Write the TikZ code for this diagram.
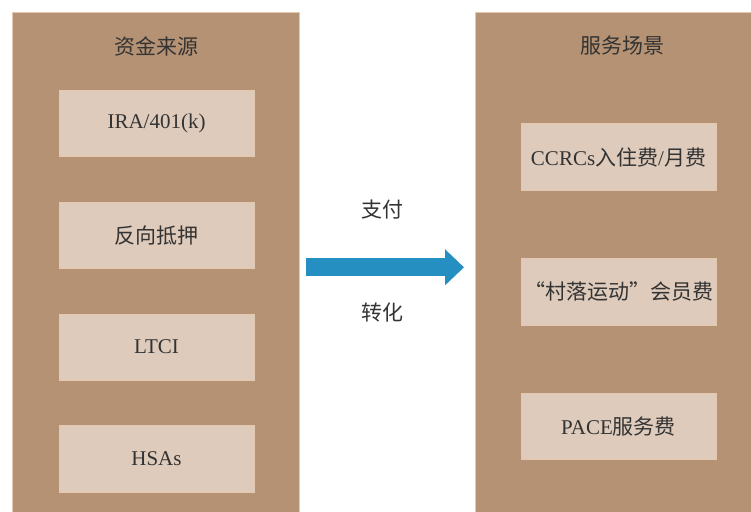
\documentclass[tikz,border=0pt]{standalone}
\usepackage{fontspec}
\setmainfont{Liberation Serif}
\newfontfamily\cjk{Noto Sans CJK SC}
\newfontfamily\cjkquote[RawFeature=+fwid]{Noto Sans CJK SC}
\usepackage{xcolor}
\usepackage{tikz}
\usetikzlibrary{positioning,arrows.meta}
\definecolor{panelbrown}{HTML}{B59273}
\definecolor{itemfill}{HTML}{DECBBB}
\definecolor{itemedge}{HTML}{E4C8AF}
\definecolor{textgray}{HTML}{333333}
\definecolor{flowblue}{HTML}{248FC0}

\begin{document}
\begin{tikzpicture}[
  x=1pt, y=-1pt,
  font=\fontsize{21}{25}\selectfont, text=textgray,
  panel/.style={fill=panelbrown, draw=itemedge, line width=0.6pt, anchor=north west,
                inner sep=0pt, minimum height=505pt},
  itembox/.style={fill=itemfill, draw=itemedge, line width=0.6pt, inner sep=0pt,
                  minimum width=195pt, minimum height=66.5pt},
  ttl/.style={inner sep=1pt},
  lab/.style={inner sep=1pt},
  flowarr/.style={draw=flowblue, line width=18pt, -{Triangle[length=19pt, width=35pt]}},
  node distance=44.7pt
]
\useasboundingbox (0,0) rectangle (751,511);
% ----- two panels -----
\node[panel, minimum width=287pt] (srcpanel) at (12,12) {};
\node[panel, minimum width=285pt] (usepanel) at (474.5,12) {};
\node[ttl] (srctitle) at (156,46) {\cjk 资金来源};
\node[ttl] (usetitle) at (622,46) {\cjk 服务场景};
% ----- funding sources, left column -----
\node[itembox] (ira) at (156.5,123.5) {IRA/401(k)};
\node[itembox, below=of ira] (rm) {\cjk 反向抵押};
\node[itembox, below=of rm] (ltci) {LTCI};
\node[itembox, below=of ltci] (hsa) {HSAs};
% ----- service scenes, right column -----
\node[itembox] (ccrc) at (618.5,157) {CCRCs{\cjk 入住费}/{\cjk 月费}};
\node[itembox, below=67.5pt of ccrc] (vill) {{\cjkquote “}{\cjk 村落运动}{\cjkquote ”}{\cjk 会员费}};
\node[itembox, below=67.5pt of vill] (pace) {PACE{\cjk 服务费}};
% ----- flow arrow -----
\draw[flowarr] ([xshift=6pt, yshift=-2.5pt]srcpanel.east) -- ([xshift=-10.5pt, yshift=-2.5pt]usepanel.west);
\node[lab] (pay) at (382,210) {\cjk 支付};
\node[lab] (conv) at (382,313) {\cjk 转化};
\end{tikzpicture}
\end{document}
